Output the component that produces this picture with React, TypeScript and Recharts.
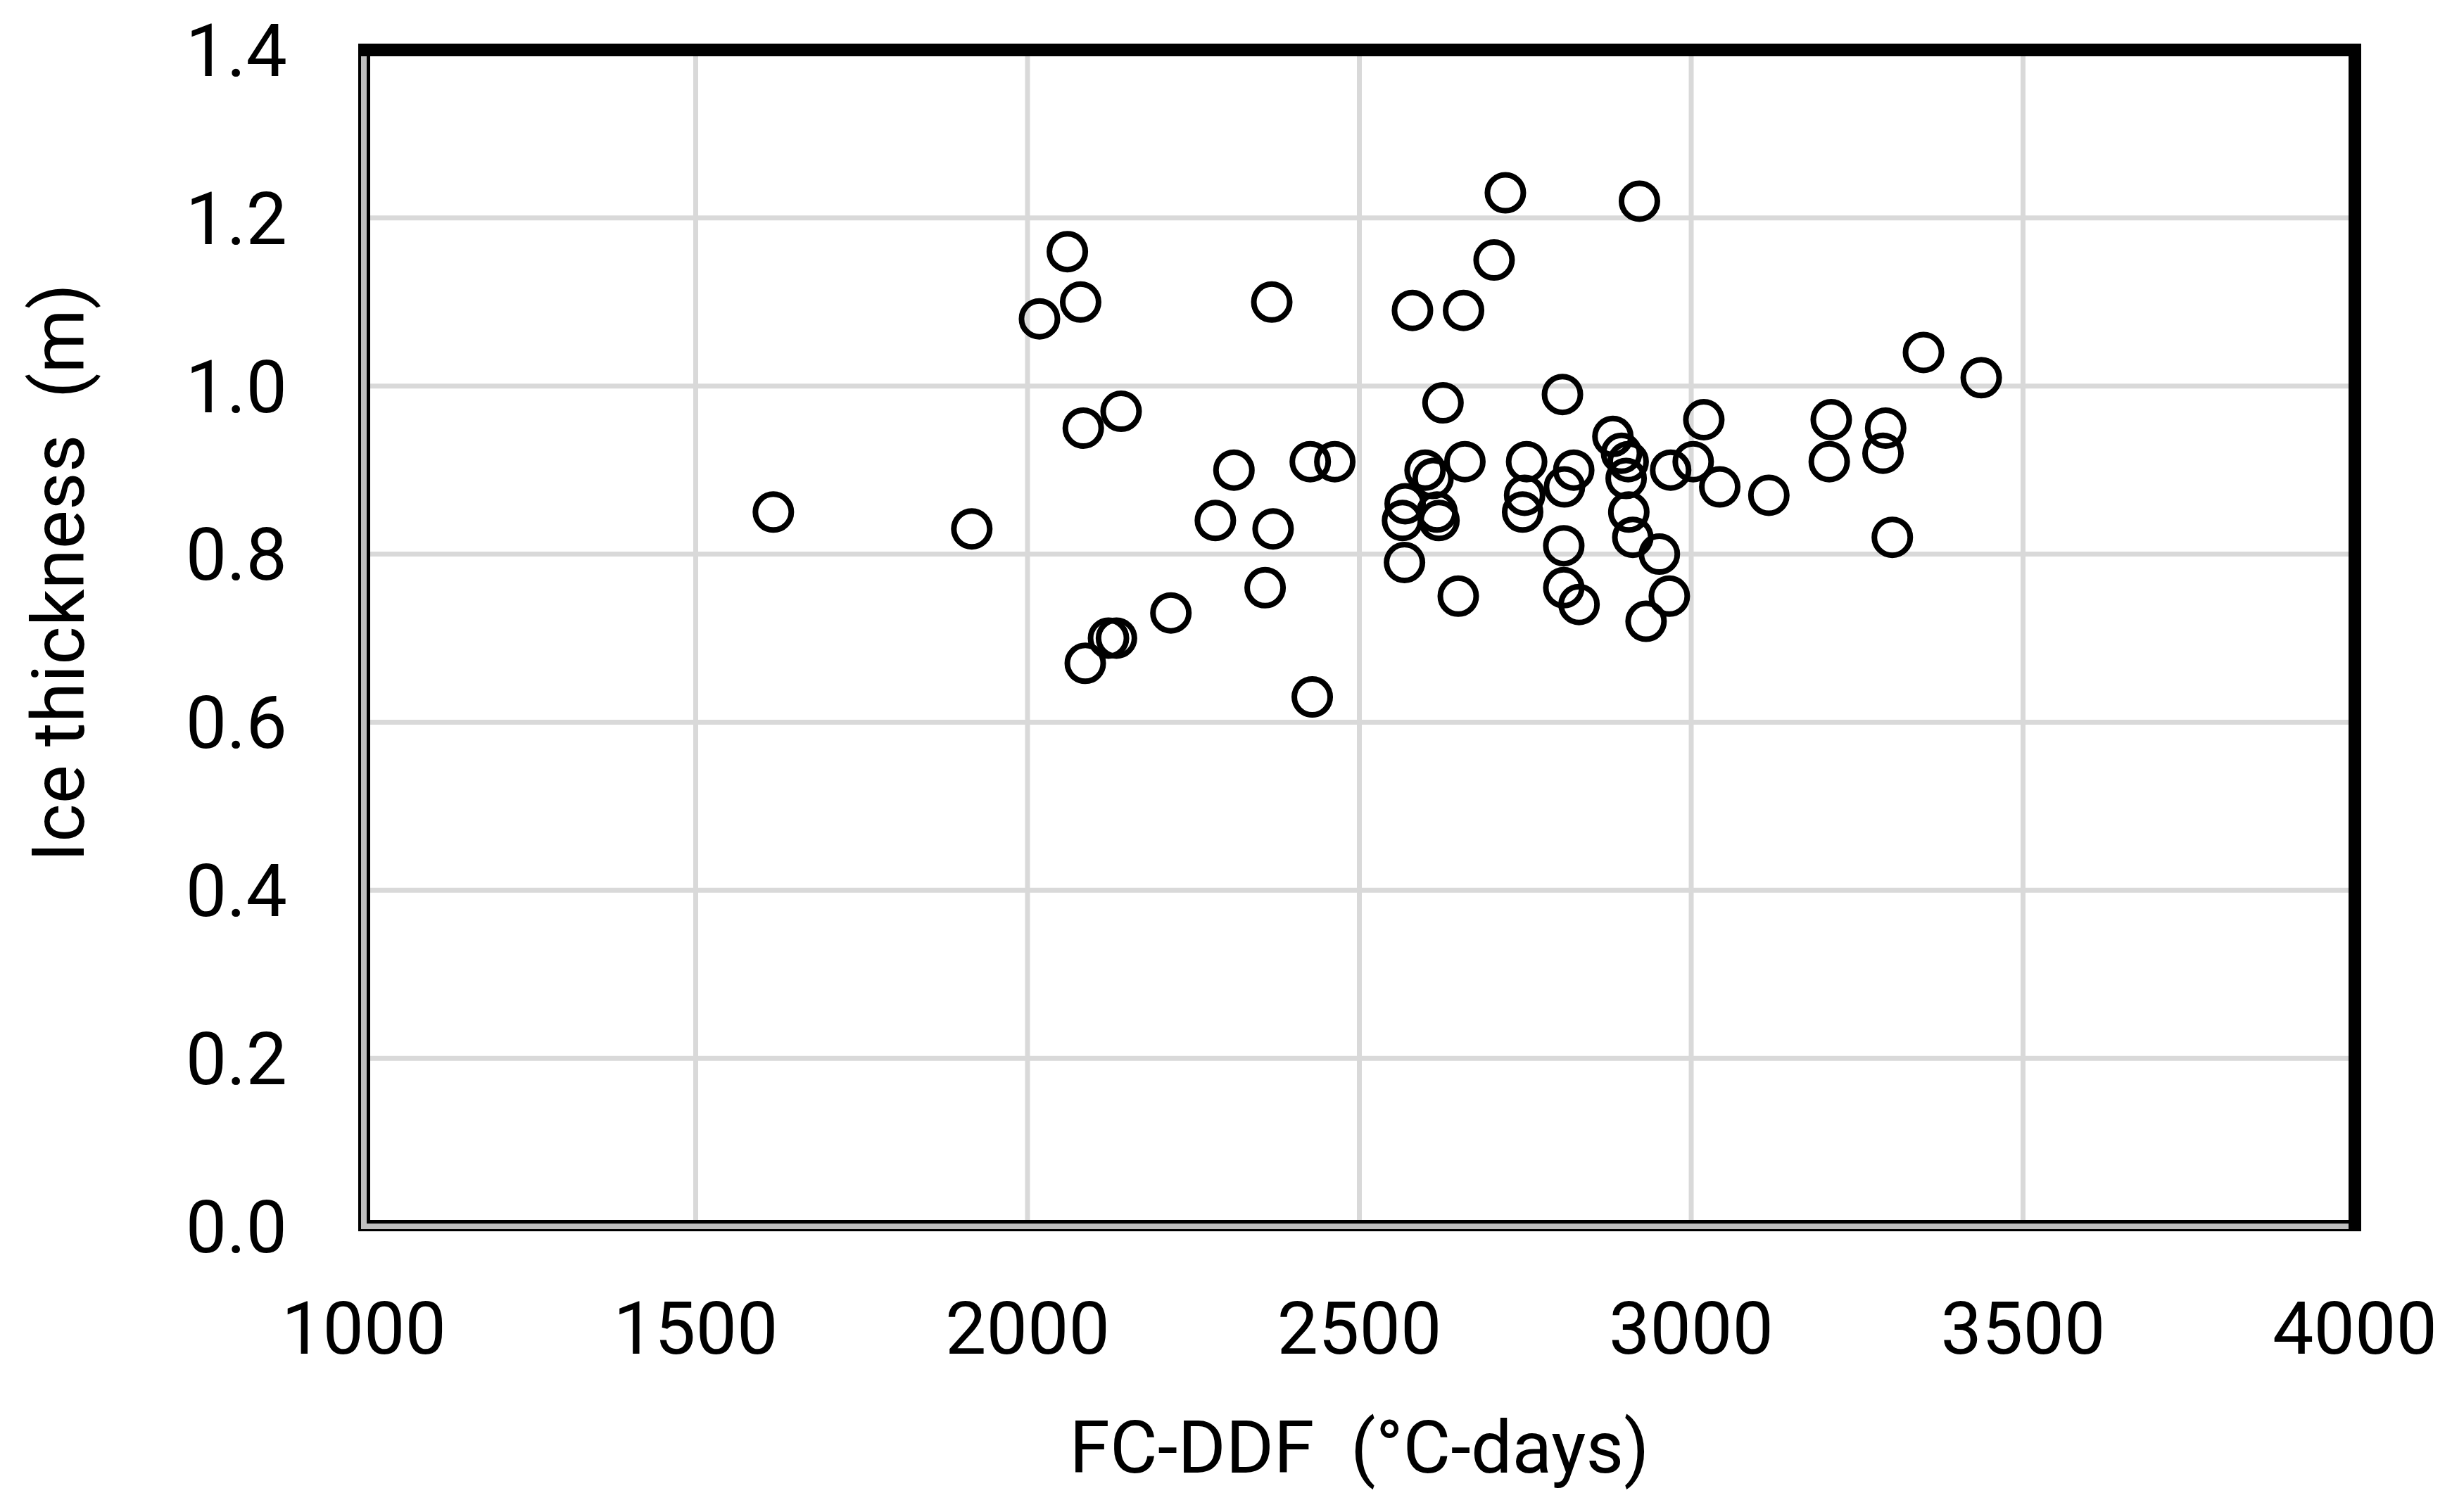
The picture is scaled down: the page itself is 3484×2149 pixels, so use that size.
import React from 'react';
import { ScatterChart, Scatter, XAxis, YAxis, CartesianGrid } from 'recharts';

// FC-DDF (°C-days)
const fcddf = [
  1617, 1916, 2018, 2060, 2080, 2084, 2087, 2122, 2134, 2141,
  2216, 2283, 2311, 2358, 2368, 2370, 2426, 2429, 2463, 2565,
  2568, 2569, 2580, 2599, 2611, 2617, 2620, 2626, 2649, 2657,
  2659, 2703, 2720, 2746, 2749, 2752, 2806, 2808, 2808, 2809,
  2823, 2831, 2882, 2895, 2905, 2902, 2906, 2912, 2922, 2932,
  2952, 2967, 2969, 3003, 3019, 3043, 3117, 3208, 3211, 3289,
  3293, 3303, 3350, 3437,
];

// Ice thickness (m)
const iceThickness = [
  0.85, 0.83, 1.08, 1.16, 1.10, 0.95, 0.67, 0.70, 0.70, 0.97,
  0.73, 0.84, 0.90, 0.76, 1.10, 0.83, 0.91, 0.63, 0.91, 0.84,
  0.79, 0.86, 1.09, 0.90, 0.89, 0.85, 0.84, 0.98, 0.75, 1.09,
  0.91, 1.15, 1.23, 0.85, 0.87, 0.91, 0.99, 0.81, 0.76, 0.88,
  0.90, 0.74, 0.94, 0.92, 0.91, 0.89, 0.85, 0.82, 1.22, 0.72,
  0.80, 0.75, 0.90, 0.91, 0.96, 0.88, 0.87, 0.91, 0.96, 0.92,
  0.95, 0.82, 1.04, 1.01,
];

const xTicks = [1000, 1500, 2000, 2500, 3000, 3500, 4000];
const yTicks = [0, 0.2, 0.4, 0.6, 0.8, 1.0, 1.2, 1.4];

const xTitle = 'FC-DDF\u00A0 (°C-days)';
const yTitle = 'Ice thickness\u00A0 (m)';

const data = fcddf.map((x, i) => ({ x, y: iceThickness[i] }));

const W = 3484;
const H = 2149;
const MARGIN = { top: 71, right: 138, bottom: 256, left: 407 };
const Y_AXIS_W = 110;
const X_AXIS_H = 150;
const PL = MARGIN.left + Y_AXIS_W;
const PT = MARGIN.top;
const PR = W - MARGIN.right;
const PB = H - MARGIN.bottom - X_AXIS_H;

const FONT = 'Roboto, "Liberation Sans", Arial, sans-serif';
const FS = 104;

const Ring = (props: any) => {
  const { cx, cy } = props;
  if (cx == null || cy == null) return null;
  return <circle cx={cx} cy={cy} r={25.5} fill="none" stroke="#000" strokeWidth={8} />;
};

export default function App() {
  return (
    <div style={{ position: 'absolute', left: 0, top: 0, width: W, height: H, background: '#fff' }}>
      <ScatterChart width={W} height={H} margin={MARGIN}>
        <CartesianGrid stroke="#d9d9d9" strokeWidth={7} />
        <XAxis
          type="number"
          dataKey="x"
          domain={[1000, 4000]}
          ticks={xTicks}
          height={X_AXIS_H}
          axisLine={false}
          tickLine={false}
          tickSize={0}
          tickMargin={107}
          interval={0}
          tick={{ fontSize: FS, fill: '#000', fontFamily: FONT }}
        />
        <YAxis
          type="number"
          dataKey="y"
          domain={[0, 1.4]}
          ticks={yTicks}
          width={Y_AXIS_W}
          axisLine={false}
          tickLine={false}
          tickSize={0}
          tickMargin={109}
          interval={0}
          tickFormatter={(v: number) => v.toFixed(1)}
          tick={{ fontSize: FS, fill: '#000', fontFamily: FONT }}
        />
        <Scatter data={data} isAnimationActive={false} shape={Ring} />
        <g>
          <rect x={PL - 8} y={PT - 9} width={17} height={PB - PT + 16} fill="#000" />
          <rect x={PL - 8} y={PB - 9} width={PR - PL + 17} height={16} fill="#000" />
          <rect x={PL - 4} y={PT + 9} width={8} height={PB - PT - 5} fill="#bfbfbf" />
          <rect x={PL - 4} y={PB - 4} width={PR - PL - 5} height={8} fill="#bfbfbf" />
          <rect x={PL - 8} y={PT - 9} width={PR - PL + 17} height={18} fill="#000" />
          <rect x={PR - 9} y={PT - 9} width={18} height={PB - PT + 16} fill="#000" />
        </g>
        <text
          x={(PL + PR) / 2}
          y={2093}
          textAnchor="middle"
          fontSize={FS}
          fontFamily={FONT}
          fill="#000"
        >
          {xTitle}
        </text>
        <text
          x={0}
          y={0}
          transform={`translate(83, 814) rotate(-90)`}
          textAnchor="middle"
          dominantBaseline="central"
          fontSize={FS}
          fontFamily={FONT}
          fill="#000"
        >
          {yTitle}
        </text>
      </ScatterChart>
    </div>
  );
}
